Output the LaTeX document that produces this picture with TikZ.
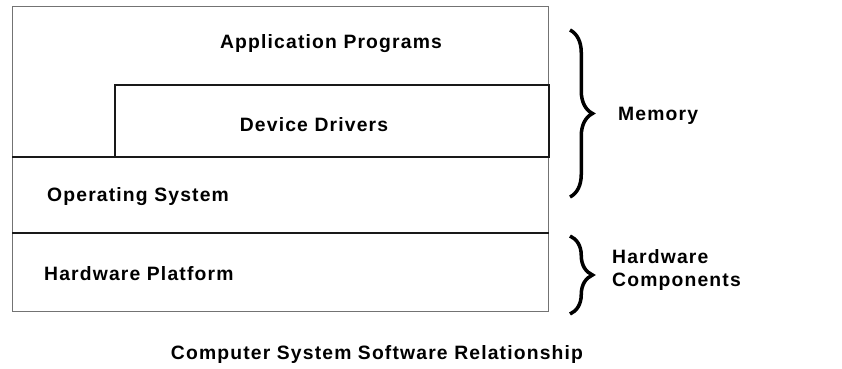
\documentclass[tikz,border=0pt]{standalone}
\usepackage{fontspec}
\setmainfont{Liberation Sans}
\usetikzlibrary{positioning, decorations.pathreplacing}

\begin{document}
\begin{tikzpicture}[
      layer/.style={draw=black!55, line width=0.7pt, anchor=south west, inner sep=0pt},
      inner/.style={draw=black!90, line width=0.9pt, anchor=south west, inner sep=0pt},
      lbl/.style={font=\bfseries\fontsize{11}{13}\selectfont\addfontfeatures{LetterSpace=6}},
      brace/.style={decorate, decoration={brace, amplitude=0.45cm}, line width=2pt}
    ]
      \useasboundingbox (0,0) rectangle (16.84,7.36);

      % Layers
      \node[layer, minimum width=10.72cm, minimum height=3.02cm] (app) at (0.24,4.20) {};
      \node[inner, minimum width=8.68cm, minimum height=1.44cm] (drv) at (2.28,4.20) {};
      \node[layer, minimum width=10.72cm, minimum height=1.52cm] (os) at (0.24,2.68) {};
      \node[layer, minimum width=10.72cm, minimum height=1.56cm] (hw) at (0.24,1.12) {};
      \draw[black!90, line width=0.9pt] (os.north west) -- (os.north east);
      \draw[black!90, line width=0.9pt] (hw.north west) -- (hw.north east);

      % Labels
      \node[lbl] (applbl) at (6.62,6.48) {Application Programs};
      \node[lbl] (drvlbl) at (6.28,4.86) {Device Drivers};
      \node[lbl, anchor=west] (oslbl) at (0.82,3.42) {Operating System};
      \node[lbl, anchor=west] (hwlbl) at (0.76,1.88) {Hardware Platform};

      % Braces
      \coordinate (memtop) at (11.40,6.76);
      \coordinate (membot) at (11.40,3.42);
      \coordinate (hwtop) at (11.40,2.64);
      \coordinate (hwbot) at (11.40,1.08);
      \draw[brace] (memtop) -- (membot);
      \draw[brace] (hwtop) -- (hwbot);
      \node[lbl, anchor=west] (mem) at (12.24,5.04) {Memory};
      \node[lbl, anchor=west, align=left] (hwc) at (12.12,1.96) {Hardware\\Components};

      % Caption
      \node[lbl] (caption) at (7.54,0.28) {Computer System Software Relationship};
    \end{tikzpicture}
\end{document}
